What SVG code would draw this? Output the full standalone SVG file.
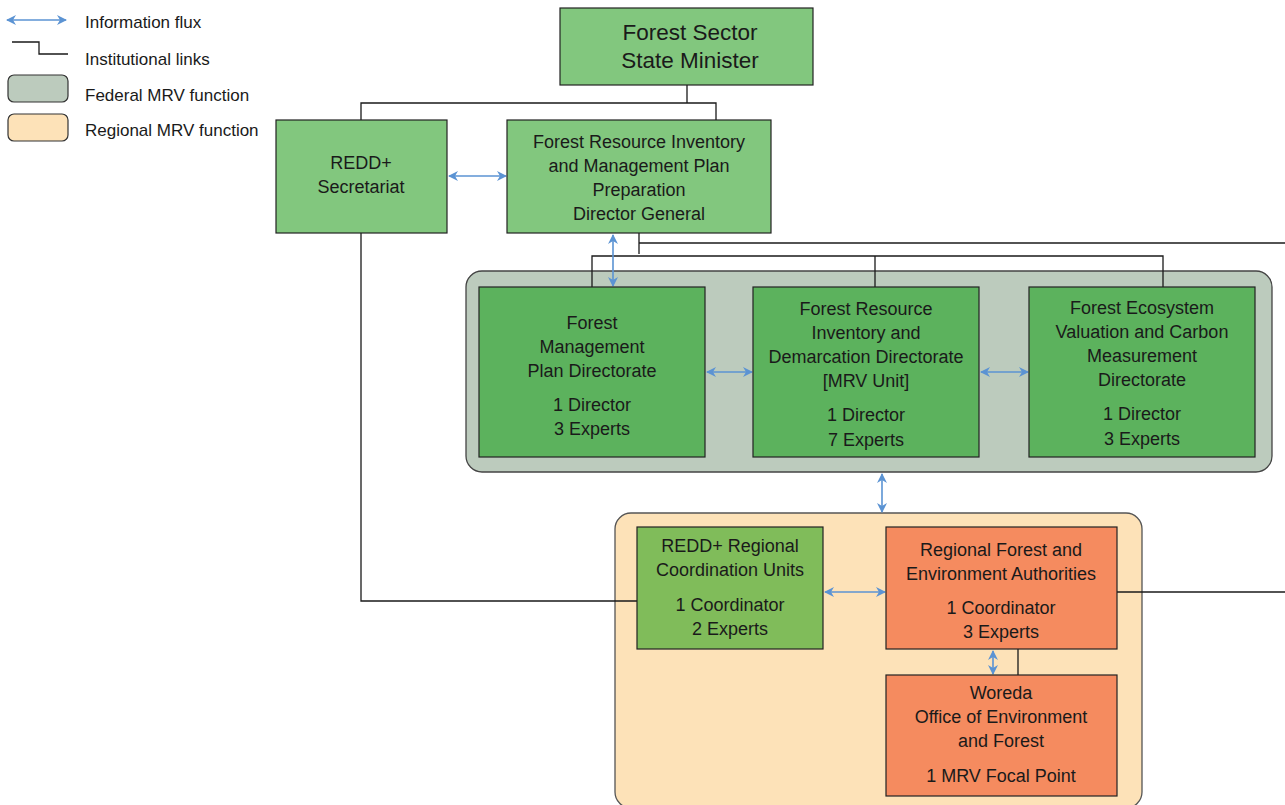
<svg xmlns="http://www.w3.org/2000/svg" width="1285" height="805" viewBox="0 0 1285 805">
<defs>
<marker id="ah" viewBox="0 0 10 10" refX="9" refY="5" markerWidth="10" markerHeight="10" markerUnits="userSpaceOnUse" orient="auto-start-reverse">
<path d="M0,0 L10,5 L0,10 L3,5 Z" fill="#5b93d3"/>
</marker>
</defs>
<style>
text{font-family:"Liberation Sans",Arial,sans-serif;fill:#1a1a1a;text-anchor:middle}
.leg{text-anchor:start;font-size:17px}
.t{font-size:18px}
.big{font-size:22.5px}
.lg{fill:#82c77e;stroke:#222;stroke-width:1.2}
.dg{fill:#5cb25d;stroke:#222;stroke-width:1.2}
.rg{fill:#80bc5a;stroke:#222;stroke-width:1.2}
.or{fill:#f58b5f;stroke:#222;stroke-width:1.2}
.link{fill:none;stroke:#1a1a1a;stroke-width:1.3}
.flux{fill:none;stroke:#5b93d3;stroke-width:1.6;marker-start:url(#ah);marker-end:url(#ah)}
</style>

<g id="legend">
<line class="flux" x1="7" y1="20" x2="66" y2="20"/>
<polyline class="link" points="12,42 39,42 39,54 68,54"/>
<rect x="8" y="75" width="60" height="27" rx="6" fill="#bccbbd" stroke="#333" stroke-width="1.2"/>
<rect x="8" y="114" width="60" height="27" rx="6" fill="#fde2b8" stroke="#333" stroke-width="1.2"/>
<text class="leg" x="85" y="28">Information flux</text>
<text class="leg" x="85" y="65">Institutional links</text>
<text class="leg" x="85" y="101">Federal MRV function</text>
<text class="leg" x="85" y="136">Regional MRV function</text>
</g>

<g id="federal-area">
<rect x="466" y="271" width="806" height="201" rx="16" fill="#bccbbd" stroke="#444" stroke-width="1.3"/>
</g>
<g id="regional-area">
<rect x="615" y="513" width="527" height="295" rx="16" fill="#fde2b8" stroke="#555" stroke-width="1.3"/>
</g>

<g id="connectors">
<polyline class="link" points="687,85 687,103"/>
<polyline class="link" points="361,120 361,103 716,103 716,120"/>
<polyline class="link" points="639,233 639,254"/>
<polyline class="link" points="639,243 1285,243"/>
<polyline class="link" points="592,287 592,256 1163,256 1163,287"/>
<polyline class="link" points="875,256 875,287"/>
<polyline class="link" points="361,233 361,601 637,601"/>
<polyline class="link" points="1117,592 1285,592"/>
<polyline class="link" points="1018,649 1018,675"/>
<line class="flux" x1="449" y1="176" x2="506" y2="176"/>
<line class="flux" x1="613" y1="235" x2="613" y2="286"/>
<line class="flux" x1="707" y1="372" x2="752" y2="372"/>
<line class="flux" x1="981" y1="372" x2="1028" y2="372"/>
<line class="flux" x1="882" y1="474" x2="882" y2="512"/>
<line class="flux" x1="825" y1="592" x2="885" y2="592"/>
<line class="flux" x1="993" y1="651" x2="993" y2="674"/>
</g>

<g id="minister">
<rect class="lg" x="560" y="8" width="253" height="77"/>
<text class="big" x="690" y="40">Forest Sector</text>
<text class="big" x="690" y="68">State Minister</text>
</g>

<g id="redd-secretariat">
<rect class="lg" x="276" y="120" width="171" height="113"/>
<text class="t" x="361" y="169">REDD+</text>
<text class="t" x="361" y="193">Secretariat</text>
</g>

<g id="director-general">
<rect class="lg" x="507" y="120" width="264" height="113"/>
<text class="t" x="639" y="148">Forest Resource Inventory</text>
<text class="t" x="639" y="172">and Management Plan</text>
<text class="t" x="639" y="196">Preparation</text>
<text class="t" x="639" y="220">Director General</text>
</g>

<g id="fmpd">
<rect class="dg" x="479" y="287" width="226" height="170"/>
<text class="t" x="592" y="329">Forest</text>
<text class="t" x="592" y="353">Management</text>
<text class="t" x="592" y="377">Plan Directorate</text>
<text class="t" x="592" y="411">1 Director</text>
<text class="t" x="592" y="435">3 Experts</text>
</g>

<g id="fridd">
<rect class="dg" x="753" y="287" width="226" height="170"/>
<text class="t" x="866" y="315">Forest Resource</text>
<text class="t" x="866" y="339">Inventory and</text>
<text class="t" x="866" y="363">Demarcation Directorate</text>
<text class="t" x="866" y="387">[MRV Unit]</text>
<text class="t" x="866" y="421">1 Director</text>
<text class="t" x="866" y="446">7 Experts</text>
</g>

<g id="fevcmd">
<rect class="dg" x="1029" y="287" width="226" height="170"/>
<text class="t" x="1142" y="314">Forest Ecosystem</text>
<text class="t" x="1142" y="338">Valuation and Carbon</text>
<text class="t" x="1142" y="362">Measurement</text>
<text class="t" x="1142" y="386">Directorate</text>
<text class="t" x="1142" y="420">1 Director</text>
<text class="t" x="1142" y="445">3 Experts</text>
</g>

<g id="redd-rcu">
<rect class="rg" x="637" y="527" width="186" height="122"/>
<text class="t" x="730" y="552">REDD+ Regional</text>
<text class="t" x="730" y="576">Coordination Units</text>
<text class="t" x="730" y="611">1 Coordinator</text>
<text class="t" x="730" y="635">2 Experts</text>
</g>

<g id="rfea">
<rect class="or" x="886" y="527" width="231" height="122"/>
<text class="t" x="1001" y="556">Regional Forest and</text>
<text class="t" x="1001" y="580">Environment Authorities</text>
<text class="t" x="1001" y="614">1 Coordinator</text>
<text class="t" x="1001" y="638">3 Experts</text>
</g>

<g id="woreda">
<rect class="or" x="886" y="675" width="231" height="121"/>
<text class="t" x="1001" y="699">Woreda</text>
<text class="t" x="1001" y="723">Office of Environment</text>
<text class="t" x="1001" y="747">and Forest</text>
<text class="t" x="1001" y="782">1 MRV Focal Point</text>
</g>
</svg>
